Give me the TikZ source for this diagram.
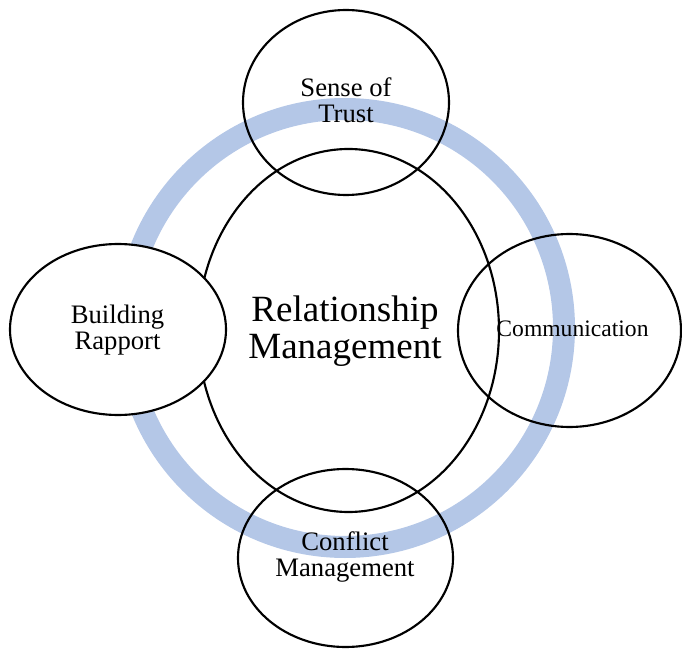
\documentclass[tikz,border=0pt]{standalone}
\usepackage{fontspec}
\setmainfont{Liberation Serif}
\usetikzlibrary{shapes.geometric}
\definecolor{ringblue}{RGB}{180,199,231}
\begin{document}
\begin{tikzpicture}[x=0.75pt,y=-0.75pt,
  bubble/.style={ellipse,draw=black,line width=1.6pt,inner sep=0pt},
  lbl/.style={anchor=base,align=center,inner sep=0pt,font=\fontsize{20}{19.5}\selectfont},
  biglbl/.style={anchor=base,align=center,inner sep=0pt,font=\fontsize{27.75}{27.5}\selectfont}]
\useasboundingbox (0,0) rectangle (682,649);
% ring
\node[circle,draw=ringblue,line width=16.5pt,minimum size=328.5pt,inner sep=0pt] (ring) at (345,328) {};
% central
\node[bubble,minimum width=225.75pt,minimum height=272.25pt] (center) at (348.5,330.5) {};
% satellites
\node[bubble,minimum width=154.5pt,minimum height=138.75pt] (top) at (346,102.5) {};
\node[bubble,fill=white,minimum width=162pt,minimum height=128.25pt] (left) at (118,329.5) {};
\node[bubble,minimum width=167.25pt,minimum height=144.75pt] (right) at (569.5,330.5) {};
\node[bubble,minimum width=161.25pt,minimum height=133.5pt] (bottom) at (345.5,558) {};
% labels (base anchor = baseline of last line)
\node[biglbl] (tcenter) at (345,358.3) {Relationship\\Management};
\node[lbl] (ttop) at (346,123) {Sense of\\Trust};
\node[lbl] (tleft) at (117.5,349) {Building\\Rapport};
\node[lbl,font=\fontsize{17.7}{19}\selectfont] (tright) at (572.5,336.7) {Communication};
\node[lbl] (tbottom) at (345,576.7) {Conflict\\Management};
\end{tikzpicture}
\end{document}
